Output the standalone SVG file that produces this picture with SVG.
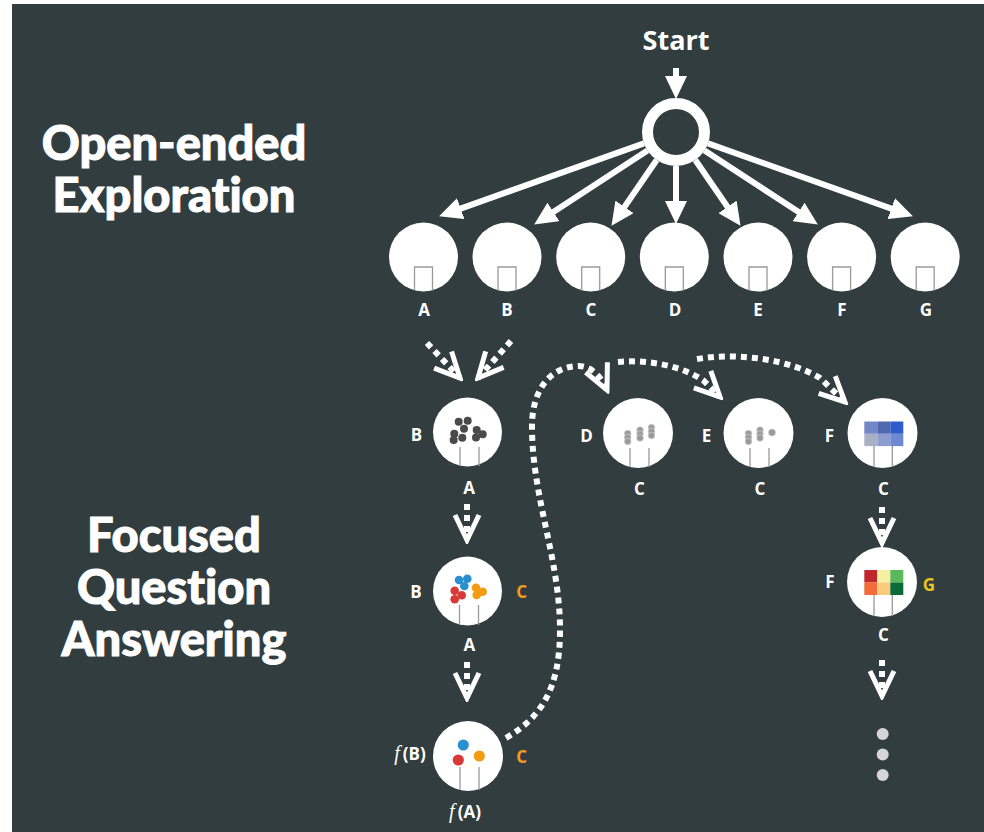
<svg xmlns="http://www.w3.org/2000/svg" width="984" height="832" viewBox="0 0 984 832">
<defs>
<style>
.lbl{font-family:"Open Sans","DejaVu Sans",sans-serif;font-weight:700;font-size:17px;fill:#ffffff;text-anchor:middle}
.org{fill:#f39c1f}
.yel{fill:#e8c51c}
.big{font-family:Lato,"Open Sans",sans-serif;font-weight:900;font-size:47px;fill:#ffffff;stroke:#ffffff;stroke-width:1;text-anchor:middle;font-variant-ligatures:none;font-feature-settings:"liga" 0,"dlig" 0}
.node{fill:#ffffff}
.sq{fill:none;stroke:#9a9a9a;stroke-width:1.3}
.solid{stroke:#ffffff;stroke-width:6;fill:none}
.dash{stroke:#ffffff;stroke-width:6;fill:none;stroke-dasharray:6 5}
.gd{fill:#4a4a4a}
.pd{fill:#9a9a9a;stroke:#d0d0d0;stroke-width:0.7}
.it{font-family:"Liberation Serif",serif;font-style:italic;font-weight:400;font-size:20px}
</style>
<marker id="tri" markerUnits="userSpaceOnUse" markerWidth="24" markerHeight="22" viewBox="0 0 24 22" refX="12" refY="11" orient="auto">
<path d="M0,0 L23,11 L0,22 Z" fill="#ffffff"/>
</marker>
<marker id="chev" markerUnits="userSpaceOnUse" markerWidth="32" markerHeight="32" viewBox="-28 -16 32 32" refX="0" refY="0" orient="auto">
<path d="M-25,-12 L0,0 L-25,12" fill="none" stroke="#ffffff" stroke-width="5"/>
</marker>
</defs>
<rect x="0" y="0" width="984" height="832" fill="#ffffff"/>
<rect x="12" y="4" width="972" height="828" fill="#323d3f"/>

<g id="titles">
<text class="big" x="174" y="160">Open-ended</text>
<text class="big" x="174" y="212">Exploration</text>
<text class="big" x="174" y="552">Focused</text>
<text class="big" x="174" y="604">Question</text>
<text class="big" x="174" y="656">Answering</text>
</g>

<g id="connectors">
<line class="solid" x1="676" y1="68" x2="676" y2="88" marker-end="url(#tri)"/>
<line class="solid" x1="644" y1="143.4" x2="449.4" y2="212.6" marker-end="url(#tri)"/>
<line class="solid" x1="647.5" y1="150.6" x2="543.4" y2="218.5" marker-end="url(#tri)"/>
<line class="solid" x1="656.7" y1="160" x2="617.7" y2="216.8" marker-end="url(#tri)"/>
<line class="solid" x1="676" y1="166" x2="676" y2="213" marker-end="url(#tri)"/>
<line class="solid" x1="695.3" y1="160" x2="734.3" y2="216.8" marker-end="url(#tri)"/>
<line class="solid" x1="704.5" y1="150.6" x2="808.6" y2="218.5" marker-end="url(#tri)"/>
<line class="solid" x1="708" y1="143.4" x2="902.6" y2="212.6" marker-end="url(#tri)"/>

<path class="dash" d="M427,343 L460,378" marker-end="url(#chev)"/>
<path class="dash" d="M511,341 L478,378" marker-end="url(#chev)"/>
<path class="dash" d="M467,504 L467,540" marker-end="url(#chev)"/>
<path class="dash" d="M467,662 L467,698" marker-end="url(#chev)"/>
<path class="dash" d="M882,507 L882,543" marker-end="url(#chev)"/>
<path class="dash" d="M882,660 L882,696" marker-end="url(#chev)"/>
<path class="dash" d="M506,738 C540,718 560,690 560,630 C560,560 533,500 532,430 C531,390 550,367 578,366 C592,366 601,377 607,390" marker-end="url(#chev)"/>
<path class="dash" d="M618,362 C650,359 684,367 704,381 L720,397" marker-end="url(#chev)"/>
<path class="dash" d="M697,359 C740,352 790,360 820,378 L845,402" marker-end="url(#chev)"/>
</g>

<g id="start">
<text class="lbl" x="676" y="50" style="font-size:27px">Start</text>
<circle cx="676" cy="132" r="28.5" fill="none" stroke="#ffffff" stroke-width="11"/>
</g>

<g id="nA"><circle class="node" cx="423.5" cy="257" r="34.5"/><path class="sq" d="M414.5,290.5 V267 H432.5 V290.5"/><text class="lbl" x="424" y="316">A</text></g>
<g id="nB"><circle class="node" cx="507" cy="257" r="34.5"/><path class="sq" d="M498,290.5 V267 H516 V290.5"/><text class="lbl" x="507" y="316">B</text></g>
<g id="nC"><circle class="node" cx="590.7" cy="257" r="34.5"/><path class="sq" d="M581.7,290.5 V267 H599.7 V290.5"/><text class="lbl" x="591" y="316">C</text></g>
<g id="nD"><circle class="node" cx="674.3" cy="257" r="34.5"/><path class="sq" d="M665.3,290.5 V267 H683.3 V290.5"/><text class="lbl" x="675" y="316">D</text></g>
<g id="nE"><circle class="node" cx="758" cy="257" r="34.5"/><path class="sq" d="M749,290.5 V267 H767 V290.5"/><text class="lbl" x="758" y="316">E</text></g>
<g id="nF"><circle class="node" cx="841.6" cy="257" r="34.5"/><path class="sq" d="M832.6,290.5 V267 H850.6 V290.5"/><text class="lbl" x="842" y="316">F</text></g>
<g id="nG"><circle class="node" cx="925.2" cy="257" r="34.5"/><path class="sq" d="M916.2,290.5 V267 H934.2 V290.5"/><text class="lbl" x="926" y="316">G</text></g>

<g id="nBA">
<circle class="node" cx="467.5" cy="432" r="34.5"/>
<path class="sq" d="M460,447 V466 M479,447 V466"/>
<circle class="gd" cx="458.7" cy="421.7" r="4"/>
<circle class="gd" cx="467.7" cy="420.7" r="4"/>
<circle class="gd" cx="464" cy="428.7" r="4"/>
<circle class="gd" cx="454.3" cy="433.7" r="4"/>
<circle class="gd" cx="462.3" cy="437.7" r="4"/>
<circle class="gd" cx="453.7" cy="440" r="4"/>
<circle class="gd" cx="476.7" cy="430" r="4"/>
<circle class="gd" cx="482.7" cy="434.3" r="4"/>
<circle class="gd" cx="476" cy="437.5" r="4"/>
<text class="lbl" x="416.5" y="441">B</text>
<text class="lbl" x="469" y="494">A</text>
</g>

<g id="nBAC">
<circle class="node" cx="467.5" cy="591" r="34.5"/>
<path class="sq" d="M459.5,605 V625 M478.5,605 V625"/>
<circle fill="#2a8fd0" cx="459" cy="580" r="4.3"/>
<circle fill="#2a8fd0" cx="467.3" cy="578.7" r="4.3"/>
<circle fill="#2a8fd0" cx="464.3" cy="586" r="4.3"/>
<circle fill="#d93838" cx="454.7" cy="590.7" r="4.3"/>
<circle fill="#d93838" cx="461.7" cy="595.3" r="4.3"/>
<circle fill="#d93838" cx="454.7" cy="599.3" r="4.3"/>
<circle fill="#f39c12" cx="476" cy="587.7" r="4.3"/>
<circle fill="#f39c12" cx="482.7" cy="591.7" r="4.3"/>
<circle fill="#f39c12" cx="476.7" cy="595" r="4.3"/>
<text class="lbl" x="416" y="598">B</text>
<text class="lbl org" x="521.7" y="598">C</text>
<text class="lbl" x="469.3" y="651">A</text>
</g>

<g id="nF_BAC">
<circle class="node" cx="468" cy="756" r="35"/>
<path class="sq" d="M460,767 V790 M479,767 V790"/>
<circle fill="#2a8fd0" cx="463.3" cy="745" r="5.6"/>
<circle fill="#d93838" cx="458.3" cy="760" r="5.6"/>
<circle fill="#f39c12" cx="479.3" cy="756" r="5.6"/>
<text class="lbl" x="410" y="760"><tspan class="it">f</tspan><tspan dx="3">(B)</tspan></text>
<text class="lbl org" x="521.7" y="763">C</text>
<text class="lbl" x="465" y="818"><tspan class="it">f</tspan><tspan dx="3">(A)</tspan></text>
</g>

<g id="nDC">
<circle class="node" cx="638" cy="433" r="35"/>
<path class="sq" d="M630,448 V467 M649,448 V467"/>
<circle class="pd" cx="627.7" cy="433.5" r="3.3"/><circle class="pd" cx="627.7" cy="437.5" r="3.3"/><circle class="pd" cx="627.7" cy="441.5" r="3.3"/>
<circle class="pd" cx="640" cy="430" r="3.3"/><circle class="pd" cx="640" cy="434" r="3.3"/><circle class="pd" cx="640" cy="438" r="3.3"/>
<circle class="pd" cx="651.5" cy="427.5" r="3.3"/><circle class="pd" cx="651.5" cy="431.5" r="3.3"/><circle class="pd" cx="651.5" cy="435.5" r="3.3"/>
<text class="lbl" x="586.5" y="442">D</text>
<text class="lbl" x="639.5" y="495">C</text>
</g>

<g id="nEC">
<circle class="node" cx="758.5" cy="433" r="35"/>
<path class="sq" d="M750,448 V467 M769,448 V467"/>
<circle class="pd" cx="748.5" cy="433.5" r="3.3"/><circle class="pd" cx="748.5" cy="437.5" r="3.3"/><circle class="pd" cx="748.5" cy="441.5" r="3.3"/>
<circle class="pd" cx="760" cy="430" r="3.3"/><circle class="pd" cx="760" cy="434" r="3.3"/><circle class="pd" cx="760" cy="438" r="3.3"/>
<circle class="pd" cx="772" cy="432.5" r="3.5"/>
<text class="lbl" x="706.5" y="442">E</text>
<text class="lbl" x="760" y="495">C</text>
</g>

<g id="nFC">
<circle class="node" cx="882.5" cy="433" r="35"/>
<rect x="864.3" y="421.5" width="13" height="12.3" fill="#7287c7"/>
<rect x="877.3" y="421.5" width="13" height="12.3" fill="#5068ad"/>
<rect x="890.3" y="421.5" width="13" height="12.3" fill="#2e5ccd"/>
<rect x="864.3" y="433.8" width="13" height="12.3" fill="#aab0c4"/>
<rect x="877.3" y="433.8" width="13" height="12.3" fill="#8e9dcf"/>
<rect x="890.3" y="433.8" width="13" height="12.3" fill="#6f88d2"/>
<path class="sq" d="M874,446 V467 M892.3,446 V467"/>
<text class="lbl" x="829.5" y="442">F</text>
<text class="lbl" x="883.3" y="495">C</text>
</g>

<g id="nFGC">
<circle class="node" cx="882" cy="582" r="35"/>
<rect x="864.3" y="570" width="13" height="12.5" fill="#c0272d"/>
<rect x="877.3" y="570" width="13" height="12.5" fill="#f6f1a2"/>
<rect x="890.3" y="570" width="13" height="12.5" fill="#5cb85c"/>
<rect x="864.3" y="582.5" width="13" height="12.5" fill="#f26b3a"/>
<rect x="877.3" y="582.5" width="13" height="12.5" fill="#fdc97a"/>
<rect x="890.3" y="582.5" width="13" height="12.5" fill="#0a6b36"/>
<path class="sq" d="M874,595 V616 M892.3,595 V616"/>
<text class="lbl" x="830" y="588">F</text>
<text class="lbl yel" x="929" y="591">G</text>
<text class="lbl" x="883.3" y="641">C</text>
</g>

<g id="more">
<circle cx="882.7" cy="734" r="6" fill="#d5d5da"/>
<circle cx="882.7" cy="754.5" r="6" fill="#d5d5da"/>
<circle cx="882.7" cy="775" r="6" fill="#d5d5da"/>
</g>
</svg>
